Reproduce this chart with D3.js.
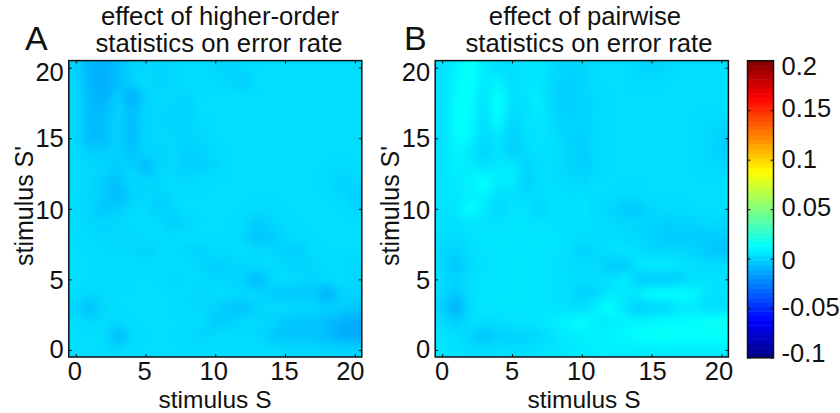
<!DOCTYPE html>
<html lang="en">
<head>
    <meta charset="UTF-8">
    <title>Effect of statistics on error rate</title>
    <script src="https://d3js.org/d3.v7.min.js" charset="utf-8"></script>
    <style>
        html, body { margin: 0; background: white; }
        svg { display: block; }
        text { font-family: 'Liberation Sans', Arial, sans-serif; fill: #111; }
        .domain { display: none; }
        .tick line { stroke: #111; stroke-width: 1; }
    </style>
</head>
<body>
    <script>
    // error rate change, in units of 0.001. Rows run from S'=20 down to S'=0, columns S=0..20
    var higherOrder = [
        [-1,-8,-10,-6,-1,1,0,1,2,2,1,0,1,3,3,3,3,3,3,3,3],
        [0,-8,-11,-6,-1,2,0,1,2,3,2,1,-1,3,3,3,3,3,3,3,3],
        [1,-7,-10,-3,-9,-1,2,1,1,3,3,3,3,3,3,3,3,3,3,3,3],
        [1,-6,-7,-1,-6,0,1,0,0,3,3,3,3,3,3,3,3,3,3,3,3],
        [1,-6,-6,-1,-6,0,1,0,0,2,3,3,3,3,3,3,3,3,3,3,3],
        [1,-6,-6,-1,-6,0,1,1,0,1,3,3,3,3,3,3,3,3,3,3,3],
        [2,-1,-2,-1,-4,0,0,1,-1,0,2,3,3,3,3,3,3,3,3,3,3],
        [2,1,0,-2,-1,-5,0,1,-1,-1,1,3,3,3,3,3,3,3,3,2,3],
        [2,1,-2,-4,1,0,1,2,1,2,3,3,3,3,3,3,3,3,2,0,1],
        [2,1,-2,-6,-1,1,0,2,3,3,3,3,3,3,3,3,3,3,3,1,-1],
        [2,0,-3,-2,1,2,-1,1,3,3,3,3,3,2,2,3,3,3,3,3,1],
        [2,1,0,1,2,2,2,-1,1,3,3,3,2,-2,0,2,3,3,3,3,3],
        [3,2,1,1,1,2,2,2,3,3,3,3,1,-3,-2,1,2,3,3,3,3],
        [3,3,2,1,2,0,2,2,1,0,2,2,3,1,1,-1,-1,2,3,3,3],
        [3,3,3,3,3,2,3,3,2,1,-1,0,1,1,2,1,0,1,2,2,1],
        [3,3,2,2,3,3,3,1,2,2,1,0,-1,-5,0,2,1,0,1,2,1],
        [3,1,2,3,3,3,3,3,2,1,2,2,1,0,-1,-3,-3,-3,-8,-1,0],
        [0,-4,1,3,3,3,3,3,2,1,0,-3,-4,0,1,1,1,0,-2,-2,-4],
        [3,1,2,1,3,3,3,3,3,2,-2,-1,1,1,0,-3,-4,-4,-6,-9,-11],
        [3,3,2,-5,1,3,3,3,2,0,2,2,2,1,-2,-4,-4,-4,-6,-10,-11],
        [3,3,3,1,3,3,3,3,3,3,3,3,3,3,2,1,1,1,0,-1,-1]
    ];
    var pairwise = [
        [4,9,14,7,4,3,5,5,2,0,1,3,3,3,1,0,1,3,3,3,3],
        [4,11,13,7,8,3,5,5,1,-1,0,3,3,3,2,2,3,3,3,3,3],
        [4,11,12,6,12,4,5,6,0,-1,0,2,3,3,3,3,3,3,3,3,3],
        [4,12,11,5,12,3,4,6,1,-1,0,2,3,3,3,3,3,3,3,3,3],
        [4,12,11,4,9,1,4,5,2,0,0,2,3,3,3,3,3,3,3,2,1],
        [4,11,9,2,5,0,3,5,3,0,-1,1,3,3,3,3,3,3,3,1,-1],
        [5,9,6,1,4,0,2,4,3,1,-1,1,3,3,3,3,3,3,3,1,-1],
        [5,8,7,5,6,6,1,3,3,1,-1,1,3,3,3,3,3,3,3,2,1],
        [5,7,9,12,7,7,0,3,3,2,1,3,3,3,3,3,3,3,3,3,3],
        [5,6,8,9,4,4,2,3,4,3,3,3,3,2,2,3,3,3,3,3,3],
        [4,6,11,6,2,4,4,1,4,4,4,2,1,-2,-2,1,2,2,3,3,3],
        [4,4,6,5,4,5,5,4,4,4,4,3,2,1,0,0,-1,0,0,1,1],
        [3,2,4,5,5,5,5,5,5,4,3,3,3,2,1,-1,-2,-2,-2,-2,-2],
        [1,0,3,5,5,5,5,5,5,3,0,2,3,4,3,1,1,1,0,-2,-4],
        [1,-3,2,4,5,5,5,5,4,3,2,2,-1,-1,4,6,6,4,3,2,3],
        [2,0,3,5,5,5,5,5,4,3,3,3,3,6,0,-1,-1,1,4,4,4],
        [1,-3,3,5,5,5,5,5,4,3,0,2,6,6,6,10,11,11,9,5,4],
        [-1,-8,2,5,5,5,5,5,5,4,4,8,11,6,0,2,3,7,7,4,4],
        [2,-2,3,2,3,4,4,5,7,9,11,8,8,9,9,10,11,11,12,13,15],
        [4,3,0,-3,-1,0,0,2,5,7,8,9,9,10,12,13,14,13,13,13,13],
        [5,4,3,2,3,3,3,4,5,6,7,8,8,8,8,8,8,8,8,8,8]
    ];
    var axisTicks = [0, 5, 10, 15, 20];
    var colorTicks = [-0.1, -0.05, 0, 0.05, 0.1, 0.15, 0.2];
    var jetStops = [-0.1, -0.0625, 0.0125, 0.0875, 0.1625, 0.2];
    var jetColors = ['#000080', '#0000ff', '#00ffff', '#ffff00', '#ff0000', '#800000'];

    var svgwidth = 840;
    var svgheight = 413;
    var top_y = 60.6, bottom_y = 357;

    var color = d3.scaleLinear().domain(jetStops).range(jetColors).clamp(true);

    var svg = d3.select('body').append('svg')
        .attr('width', svgwidth)
        .attr('height', svgheight);

    // catmull-rom between the cells of one line, ends repeated
    function cubic(a, b, c, d, t) {
        return b + 0.5 * t * (c - a + t * (2 * a - 5 * b + 4 * c - d + t * (3 * (b - c) + d - a)));
    }

    function sample(matrix, fx, fy) {
        var c0 = Math.floor(fx), r0 = Math.floor(fy);
        var pick = (r, c) => matrix[Math.max(0, Math.min(20, r))][Math.max(0, Math.min(20, c))];
        var rows = [-1, 0, 1, 2].map(function(dr) {
            return cubic(pick(r0 + dr, c0 - 1), pick(r0 + dr, c0), pick(r0 + dr, c0 + 1), pick(r0 + dr, c0 + 2), fx - c0);
        });
        return cubic(rows[0], rows[1], rows[2], rows[3], fy - r0);
    }

    // smooth the 21x21 values up to the panel size and colour them
    function heatImage(matrix, w, h) {
        var canvas = document.createElement('canvas');
        canvas.width = w;
        canvas.height = h;
        var ctx = canvas.getContext('2d');
        var col = d3.scaleLinear().domain([0, w]).range([-0.5, 20.5]);
        var row = d3.scaleLinear().domain([0, h]).range([-0.5, 20.5]);
        for (var py = 0; py < h; py++) {
            for (var px = 0; px < w; px++) {
                ctx.fillStyle = color(sample(matrix, col(px + 0.5), row(py + 0.5)) / 1000);
                ctx.fillRect(px, py, 1, 1);
            }
        }
        return canvas.toDataURL();
    }

    function drawPanel(p) {
        var x = d3.scaleLinear().domain([-0.5, 20.5]).range([p.left, p.right]);
        var y = d3.scaleLinear().domain([-0.5, 20.5]).range([bottom_y, top_y]);

        svg.append('image')
            .attr('x', p.left)
            .attr('y', top_y)
            .attr('width', p.right - p.left)
            .attr('height', bottom_y - top_y)
            .attr('preserveAspectRatio', 'none')
            .attr('href', heatImage(p.values, Math.round(p.right - p.left), Math.round(bottom_y - top_y)));

        // inner ticks on all four sides
        var bottomAxis = svg.append('g')
            .attr('transform', 'translate(0,' + bottom_y + ')')
            .call(d3.axisBottom(x).tickValues(axisTicks).tickSize(-3).tickPadding(5));
        bottomAxis.selectAll('text')
            .style('font-size', '25.5px')
            .attr('dx', (d, i) => p.xShift[i]);

        svg.append('g')
            .attr('transform', 'translate(0,' + top_y + ')')
            .call(d3.axisTop(x).tickValues(axisTicks).tickSize(-3).tickFormat(''));

        var leftAxis = svg.append('g')
            .attr('transform', 'translate(' + p.left + ',0)')
            .call(d3.axisLeft(y).tickValues(axisTicks).tickSize(-3).tickPadding(5));
        leftAxis.selectAll('text')
            .style('font-size', '25.5px')
            .attr('dy', (d, i) => (0.32 * 25.5 + [-1, 1, 1.5, 0, 5][i]) + 'px');

        svg.append('g')
            .attr('transform', 'translate(' + p.right + ',0)')
            .call(d3.axisRight(y).tickValues(axisTicks).tickSize(-3).tickFormat(''));

        svg.append('rect')
            .attr('x', p.left)
            .attr('y', top_y)
            .attr('width', p.right - p.left)
            .attr('height', bottom_y - top_y)
            .attr('fill', 'none')
            .attr('stroke', '#111')
            .attr('stroke-width', 1.5);

        // panel letter
        svg.append('text')
            .attr('x', p.letterX)
            .attr('y', 50)
            .style('font-size', '34px')
            .text(p.letter);

        // two line title
        svg.append('text')
            .attr('x', p.titleX[0])
            .attr('y', 25)
            .attr('text-anchor', 'middle')
            .style('font-size', '25.7px')
            .text(p.title[0]);
        svg.append('text')
            .attr('x', p.titleX[1])
            .attr('y', 52)
            .attr('text-anchor', 'middle')
            .style('font-size', '25.7px')
            .text(p.title[1]);

        svg.append('text')
            .attr('x', p.xLabelX)
            .attr('y', 408.2)
            .attr('text-anchor', 'middle')
            .style('font-size', '24.5px')
            .text('stimulus S');

        svg.append('text')
            .attr('transform', 'translate(' + p.yLabelX + ',206) rotate(-90)')
            .attr('text-anchor', 'middle')
            .style('font-size', '25px')
            .text("stimulus S'");
    }

    drawPanel({
        values: higherOrder, left: 68.8, right: 361.8, letter: 'A', letterX: 25,
        title: ['effect of higher-order', 'statistics on error rate'], titleX: [220, 219],
        xLabelX: 215, yLabelX: 32.5, xShift: [-1.5, -1.5, -2, -1, -5]
    });
    drawPanel({
        values: pairwise, left: 435.2, right: 728.4, letter: 'B', letterX: 404,
        title: ['effect of pairwise', 'statistics on error rate'], titleX: [585, 589],
        xLabelX: 584, yLabelX: 399, xShift: [-0.5, -0.5, -1, 0.5, -3]
    });

    // colour bar
    var barLeft = 747.5, barRight = 773.5;
    var cy = d3.scaleLinear().domain([-0.1, 0.2]).range([357.7, 60.7]);
    var levels = d3.range(64).map(i => -0.1 + (i + 0.5) * 0.3 / 64);
    var band = d3.scaleBand().domain(levels).range([357.7, 60.7]);

    svg.append('g').selectAll('rect')
        .data(levels)
        .enter().append('rect')
        .attr('x', barLeft)
        .attr('y', d => band(d))
        .attr('width', barRight - barLeft)
        .attr('height', band.bandwidth() + 0.5)
        .attr('fill', d => color(d));

    var barAxis = svg.append('g')
        .attr('transform', 'translate(' + barRight + ',0)')
        .call(d3.axisRight(cy).tickValues(colorTicks).tickSize(-3).tickPadding(8).tickFormat(d => String(d)));
    barAxis.selectAll('text')
        .style('font-size', '25.5px')
        .attr('dy', (d, i) => (0.32 * 25.5 + [-4.7, -1, 1.3, -2.3, -0.7, -2.3, 5.3][i]) + 'px');

    svg.append('g')
        .attr('transform', 'translate(' + barLeft + ',0)')
        .call(d3.axisLeft(cy).tickValues(colorTicks).tickSize(-3).tickFormat(''));

    svg.append('rect')
        .attr('x', barLeft)
        .attr('y', 60.7)
        .attr('width', barRight - barLeft)
        .attr('height', 297)
        .attr('fill', 'none')
        .attr('stroke', '#111')
        .attr('stroke-width', 1.5);
    </script>
</body>
</html>
